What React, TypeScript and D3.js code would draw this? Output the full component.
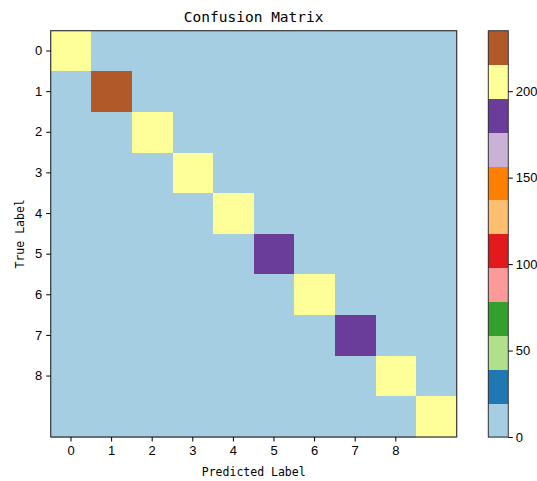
import * as d3 from 'd3';
import React, { useEffect, useRef } from 'react';

const classes = ['0', '1', '2', '3', '4', '5', '6', '7', '8', '9'];
const tickLabels = ['0', '1', '2', '3', '4', '5', '6', '7', '8'];
const matrix = [
  [205, 0, 0, 0, 0, 0, 0, 0, 0, 0],
  [0, 235, 0, 0, 0, 0, 0, 0, 0, 0],
  [0, 0, 206, 0, 0, 0, 0, 0, 0, 0],
  [0, 0, 0, 208, 0, 0, 0, 0, 0, 0],
  [0, 0, 0, 0, 204, 0, 0, 0, 0, 0],
  [0, 0, 0, 0, 0, 186, 0, 0, 0, 0],
  [0, 0, 0, 0, 0, 0, 207, 0, 0, 0],
  [0, 0, 0, 0, 0, 0, 0, 188, 0, 0],
  [0, 0, 0, 0, 0, 0, 0, 0, 205, 0],
  [0, 0, 0, 0, 0, 0, 0, 0, 0, 203],
];
const colorbarTicks = [0, 50, 100, 150, 200];

const App = () => {
  const ref = useRef<SVGSVGElement>(null);

  useEffect(() => {
    const width = 537, height = 481;
    const margin = { top: 30.7, left: 50.7, right: 456.7, bottom: 437 };
    const svg = d3.select(ref.current);
    svg.selectAll('*').remove();
    svg.attr('width', width).attr('height', height);

    const vmax = d3.max(matrix.flat()) as number;
    const color = d3.scaleQuantize<string>().domain([0, vmax]).range(d3.schemePaired);

    const x = d3.scaleBand().domain(classes).range([margin.left, margin.right]);
    const y = d3.scaleBand().domain(classes).range([margin.top, margin.bottom]);

    const cells = matrix.flatMap((row, i) => row.map((v, j) => ({ i, j, v })));
    svg.append('g')
      .attr('shape-rendering', 'crispEdges')
      .selectAll('rect')
      .data(cells)
      .join('rect')
      .attr('x', d => x(classes[d.j]) as number)
      .attr('y', d => y(classes[d.i]) as number)
      .attr('width', x.bandwidth() + 0.5)
      .attr('height', y.bandwidth() + 0.5)
      .attr('fill', d => color(d.v));

    svg.append('rect')
      .attr('x', margin.left).attr('y', margin.top)
      .attr('width', margin.right - margin.left)
      .attr('height', margin.bottom - margin.top)
      .attr('fill', 'none').attr('stroke', '#333').attr('stroke-width', 1.2);

    const tickFont = 'Liberation Sans, Arial, sans-serif';

    const xAxis = svg.append('g')
      .attr('transform', `translate(0,${margin.bottom})`)
      .call(d3.axisBottom(x).tickValues(tickLabels).tickSize(4.5).tickPadding(4));
    xAxis.select('.domain').remove();

    const yAxis = svg.append('g')
      .attr('transform', `translate(${margin.left},0)`)
      .call(d3.axisLeft(y).tickValues(tickLabels).tickSize(4.5).tickPadding(4));
    yAxis.select('.domain').remove();

    [xAxis, yAxis].forEach(g => {
      g.selectAll('text').attr('font-family', tickFont).attr('font-size', 13).attr('fill', '#000');
      g.selectAll('line').attr('stroke', '#000');
    });

    svg.append('text')
      .attr('x', (margin.left + margin.right) / 2).attr('y', 22)
      .attr('text-anchor', 'middle')
      .attr('font-family', 'DejaVu Sans Mono, monospace').attr('font-size', 14.5)
      .text('Confusion Matrix');

    svg.append('text')
      .attr('x', (margin.left + margin.right) / 2).attr('y', 476)
      .attr('text-anchor', 'middle')
      .attr('font-family', 'DejaVu Sans Mono, monospace').attr('font-size', 11.5)
      .text('Predicted Label');

    svg.append('text')
      .attr('transform', `translate(24,${(margin.top + margin.bottom) / 2}) rotate(-90)`)
      .attr('text-anchor', 'middle')
      .attr('font-family', 'DejaVu Sans Mono, monospace').attr('font-size', 11.5)
      .text('True Label');

    // colorbar
    const cb = { x: 488.3, w: 20 };
    const cy = d3.scaleLinear().domain([0, vmax]).range([margin.bottom, margin.top]);
    const bins = d3.schemePaired.map(c => {
      const [a, b] = color.invertExtent(c);
      return { c, a, b };
    });
    svg.append('g')
      .attr('shape-rendering', 'crispEdges')
      .selectAll('rect')
      .data(bins)
      .join('rect')
      .attr('x', cb.x)
      .attr('y', d => cy(d.b))
      .attr('width', cb.w)
      .attr('height', d => cy(d.a) - cy(d.b) + 0.5)
      .attr('fill', d => d.c);
    svg.append('rect')
      .attr('x', cb.x).attr('y', margin.top)
      .attr('width', cb.w).attr('height', margin.bottom - margin.top)
      .attr('fill', 'none').attr('stroke', '#333').attr('stroke-width', 1);

    const cAxis = svg.append('g')
      .attr('transform', `translate(${cb.x + cb.w},0)`)
      .call(d3.axisRight(cy).tickValues(colorbarTicks).tickSize(4.5).tickPadding(3));
    cAxis.select('.domain').remove();
    cAxis.selectAll('text').attr('font-family', tickFont).attr('font-size', 13).attr('fill', '#000');
    cAxis.selectAll('line').attr('stroke', '#000');
  }, []);

  return <svg ref={ref} style={{ position: 'absolute', left: 0, top: 0 }}></svg>;
};

export default App;
